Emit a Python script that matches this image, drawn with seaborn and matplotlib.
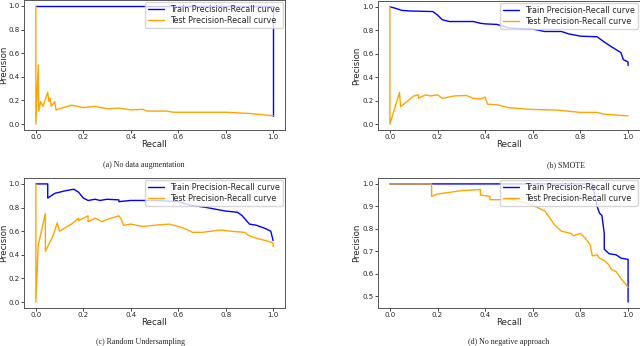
import matplotlib
matplotlib.use("Agg")
import matplotlib.pyplot as plt
import seaborn as sns
import numpy as np

# (a) No data augmentation
a_train_recall = [0.0, 1.0, 1.0]
a_train_prec = [1.0, 1.0, 0.07]
a_test_recall = [0.0, 0.0, 0.01, 0.012, 0.02, 0.03, 0.05, 0.055, 0.06, 0.065, 0.08, 0.085,
                 0.1, 0.15, 0.2, 0.25, 0.3, 0.35, 0.4, 0.45, 0.47, 0.55, 0.58, 0.7, 0.8, 0.9, 1.0]
a_test_prec = [1.0, 0.0, 0.5, 0.11, 0.19, 0.15, 0.27, 0.19, 0.22, 0.15, 0.19, 0.12,
               0.13, 0.16, 0.14, 0.15, 0.13, 0.135, 0.12, 0.125, 0.11, 0.11, 0.10, 0.10, 0.10, 0.09, 0.07]

# (b) SMOTE
b_train_recall = [0.0, 0.02, 0.05, 0.08, 0.18, 0.2, 0.22, 0.25, 0.35, 0.38, 0.4, 0.45, 0.5,
                  0.6, 0.65, 0.72, 0.75, 0.8, 0.87, 0.9, 0.93, 0.97, 0.98, 1.0, 1.0]
b_train_prec = [1.0, 0.99, 0.97, 0.965, 0.96, 0.93, 0.89, 0.875, 0.875, 0.86, 0.855, 0.85, 0.82,
                0.81, 0.79, 0.79, 0.77, 0.75, 0.745, 0.70, 0.66, 0.61, 0.55, 0.53, 0.50]
b_test_recall = [0.0, 0.0, 0.04, 0.045, 0.07, 0.1, 0.12, 0.12, 0.15, 0.17, 0.2, 0.22, 0.27,
                 0.32, 0.35, 0.38, 0.4, 0.41, 0.45, 0.5, 0.6, 0.7, 0.8, 0.87, 0.9, 1.0]
b_test_prec = [1.0, 0.0, 0.27, 0.15, 0.19, 0.24, 0.25, 0.22, 0.25, 0.24, 0.25, 0.22, 0.24,
               0.245, 0.22, 0.215, 0.23, 0.17, 0.165, 0.14, 0.125, 0.12, 0.10, 0.10, 0.085, 0.07]

# (c) Random Undersampling
c_train_recall = [0.0, 0.05, 0.05, 0.08, 0.12, 0.16, 0.18, 0.2, 0.22, 0.25, 0.27, 0.3, 0.35,
                  0.35, 0.4, 0.5, 0.55, 0.6, 0.65, 0.72, 0.8, 0.85, 0.87, 0.9, 0.93, 0.97, 0.99, 1.0]
c_train_prec = [1.0, 1.0, 0.88, 0.92, 0.94, 0.955, 0.93, 0.88, 0.86, 0.87, 0.86, 0.87, 0.865,
                0.85, 0.86, 0.86, 0.855, 0.85, 0.82, 0.80, 0.77, 0.76, 0.73, 0.66, 0.65, 0.62, 0.60, 0.52]
c_test_recall = [0.0, 0.0, 0.01, 0.04, 0.04, 0.07, 0.09, 0.1, 0.15, 0.18, 0.18, 0.22, 0.22,
                 0.25, 0.26, 0.28, 0.3, 0.35, 0.36, 0.37, 0.4, 0.45, 0.5, 0.56, 0.6, 0.63,
                 0.66, 0.7, 0.78, 0.82, 0.88, 0.9, 0.93, 0.97, 1.0, 1.0]
c_test_prec = [1.0, 0.0, 0.48, 0.75, 0.43, 0.55, 0.67, 0.60, 0.66, 0.71, 0.69, 0.73, 0.68,
               0.71, 0.70, 0.68, 0.70, 0.73, 0.70, 0.65, 0.66, 0.64, 0.65, 0.66, 0.64, 0.62,
               0.59, 0.59, 0.61, 0.60, 0.59, 0.56, 0.54, 0.52, 0.50, 0.47]

# (d) No negative approach
d_train_recall = [0.0, 0.85, 0.87, 0.88, 0.89, 0.9, 0.9, 0.92, 0.95, 0.97, 1.0, 1.0]
d_train_prec = [1.0, 1.0, 0.9, 0.87, 0.86, 0.78, 0.71, 0.69, 0.685, 0.67, 0.665, 0.475]
d_test_recall = [0.0, 0.175, 0.175, 0.2, 0.3, 0.38, 0.38, 0.42, 0.42, 0.5, 0.55, 0.6, 0.65,
                 0.67, 0.69, 0.7, 0.72, 0.76, 0.77, 0.8, 0.82, 0.84, 0.85, 0.87, 0.88, 0.9,
                 0.92, 0.93, 0.95, 0.97, 0.99, 1.0]
d_test_prec = [1.0, 1.0, 0.945, 0.955, 0.97, 0.975, 0.95, 0.945, 0.93, 0.93, 0.92, 0.905, 0.88,
               0.85, 0.82, 0.81, 0.79, 0.78, 0.77, 0.78, 0.76, 0.73, 0.68, 0.685, 0.67, 0.66,
               0.64, 0.62, 0.61, 0.58, 0.555, 0.54]

captions = ['(a) No data augmentation', '(b) SMOTE',
            '(c) Random Undersampling', '(d) No negative approach']

W, H = 640, 346
sns.set_style('ticks')
plt.rcParams['font.family'] = ['DejaVu Sans']

fig = plt.figure(figsize=(W / 100, H / 100), dpi=100)


def px_axes(left, right, top, bottom):
    return fig.add_axes([left / W, 1 - bottom / H, (right - left) / W, (bottom - top) / H])


panels = [
    (px_axes(24, 285, 0, 130), a_train_recall, a_train_prec, a_test_recall, a_test_prec, 8),
    (px_axes(378, 640, 1, 130), b_train_recall, b_train_prec, b_test_recall, b_test_prec, 361),
    (px_axes(24, 285, 178, 308), c_train_recall, c_train_prec, c_test_recall, c_test_prec, 8),
    (px_axes(378, 640, 178, 308), d_train_recall, d_train_prec, d_test_recall, d_test_prec, 361),
]

for ax, tr_x, tr_y, te_x, te_y, ylab_px in panels:
    sns.lineplot(x=tr_x, y=tr_y, ax=ax, color='blue', linewidth=1.0, sort=False,
                 estimator=None, label='Train Precision-Recall curve')
    sns.lineplot(x=te_x, y=te_y, ax=ax, color='orange', linewidth=1.0, sort=False,
                 estimator=None, label='Test Precision-Recall curve')
    ax.set_xlabel('Recall', fontsize=6.2, labelpad=0)
    ax.set_ylabel('Precision', fontsize=6.2)
    # place the y label by pixel so it stays inside the figure like in the reference
    left_px = ax.get_position().x0 * W
    width_px = ax.get_position().width * W
    ax.yaxis.set_label_coords((ylab_px - left_px) / width_px, 0.5)
    ax.tick_params(labelsize=5.0, length=2.0, width=0.6, pad=1.2)
    for s in ax.spines.values():
        s.set_linewidth(0.7)
        s.set_color('#555555')
    ax.legend(loc='upper right', fontsize=5.8, borderpad=0.3, labelspacing=0.3,
              handlelength=2.0, borderaxespad=0.3)

cap_pos = [(144, 165), (566, 165), (140, 342), (509, 342)]
for (cx, cy), txt in zip(cap_pos, captions):
    fig.text(cx / W, 1 - cy / H, txt, ha='center', va='center',
             family='Liberation Serif', fontsize=5.8)

fig.savefig('out.png', dpi=100)
